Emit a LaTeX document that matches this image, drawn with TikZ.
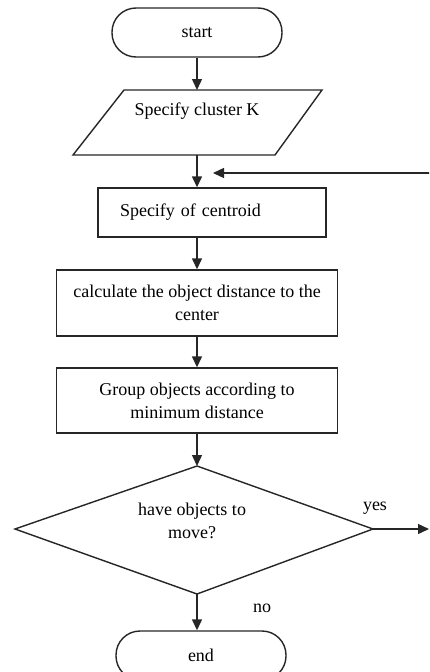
\documentclass[tikz,border=0pt]{standalone}
\usepackage{fontspec}
\setmainfont{Liberation Serif}
\usetikzlibrary{arrows.meta}
\tikzset{
  every node/.style={font=\fontsize{18}{23}\selectfont},
  line/.style={line width=1.4pt, draw=black!85},
  arr/.style={line, -{Triangle[length=11pt,width=10pt]}},
  term/.style={line, rectangle, rounded corners=24pt, minimum width=170pt, minimum height=49pt, inner sep=0pt},
  proc/.style={line, rectangle, minimum width=281pt, inner sep=0pt, align=center},
  plain/.style={inner sep=0pt, align=center}
}
\begin{document}
\begin{tikzpicture}[x=1pt,y=-1pt]
\clip (0,0) rectangle (429,672);
% start
\node[term] (start) at (197,32.5) {start};
% parallelogram input
\draw[line] (124,90) -- (322,90) -- (275,155) -- (73,155) -- cycle;
\coordinate (inTop) at (197,90);
\coordinate (inBot) at (197,155);
\node[plain] (inText) at (197,111) {Specify cluster K};
% centroid box
\node[line, rectangle, minimum height=49pt, text width=184pt, inner xsep=22pt, inner ysep=0pt, align=left] (cent) at (212,212.5) {Specify of centroid};
% distance box
\node[proc, minimum height=66pt] (dist) at (197,303) {calculate the object distance to the\\center};
% group box
\node[proc, minimum height=65pt] (grp) at (197,400.5) {Group objects according to\\minimum distance};
% decision
\coordinate (decTop) at (197,466);
\coordinate (decRight) at (373,529);
\coordinate (decBot) at (197,594);
\coordinate (decLeft) at (15,529);
\draw[line] (decTop) -- (decRight) -- (decBot) -- (decLeft) -- cycle;
\node[plain] (decText) at (192,521) {have objects to\\move?};
% end
\node[term] (stop) at (201,655.5) {end};
% free ends
\coordinate (fbS) at (430,173);
\coordinate (fbE) at (213,173);
\coordinate (yesE) at (429,529);
% connectors
\draw[arr] (start.south) -- (inTop);
\draw[arr] (inBot) -- (inBot |- cent.north);
\draw[arr] (fbS) -- (fbE);
\draw[arr] (cent.south -| dist.north) -- (dist.north);
\draw[arr] (dist.south) -- (grp.north);
\draw[arr] (grp.south) -- (decTop);
\draw[arr] (decRight) -- (yesE);
\draw[arr] (decBot) -- (decBot |- stop.north);
% labels
\node[plain] (yes) at (375,508) {yes};
\node[plain] (no) at (262,608) {no};
\end{tikzpicture}
\end{document}
